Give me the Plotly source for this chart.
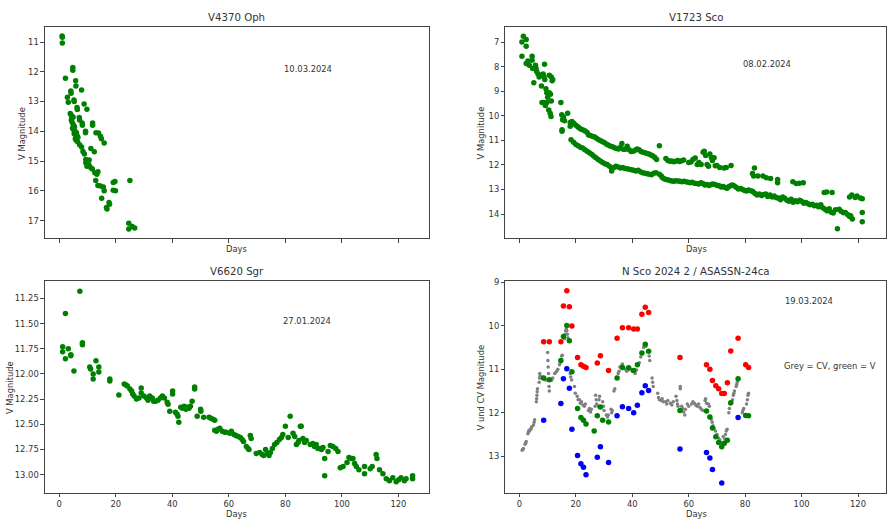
import plotly.graph_objects as go

# ---------------- V4370 Oph ----------------
oph_days = [1.0, 1.1, 1.1, 2.2, 2.9, 3.2, 4.1, 4.2, 4.8, 4.8, 5.2, 5.3, 5.8, 5.9, 6.3, 6.4, 7.9,
            3.9, 4.2, 4.5, 4.9, 4.3, 4.6, 5.0, 5.4, 4.7, 5.1, 5.6, 5.3, 5.8, 6.1, 6.3, 6.6, 5.7, 6.0, 6.5,
            7.1, 7.2, 8.1, 8.2, 8.8, 9.8, 9.3, 9.3, 11.8, 11.8, 13.0, 13.9, 14.6, 14.9, 15.9,
            7.2, 7.9, 8.4, 8.9, 11.2, 12.4, 9.4, 10.2, 10.6, 9.4, 9.8, 10.5, 11.2, 11.7,
            12.6, 13.3, 13.7, 12.9, 13.7, 14.6, 15.6, 19.1, 19.7, 19.1, 19.9, 15.9, 15.0,
            17.6, 17.8, 16.7, 16.9, 25.0, 24.6, 24.6, 25.8, 26.7]
oph_mags = [10.80, 10.84, 11.03, 12.22, 12.86, 13.02, 12.65, 12.72, 11.86, 11.95, 12.95, 13.00, 12.30, 12.48, 13.20, 13.27, 12.61,
            13.40, 13.45, 13.55, 13.52, 13.62, 13.70, 13.78, 13.85, 13.90, 13.95, 14.00, 14.08, 14.12, 14.05, 14.15, 14.20, 14.25, 14.30, 14.35,
            13.54, 13.62, 13.72, 13.80, 13.08, 13.26, 14.00, 14.05, 13.72, 13.80, 14.05, 14.06, 14.17, 14.25, 14.39,
            14.45, 14.53, 14.68, 14.76, 14.58, 14.69, 14.95, 14.98, 14.96, 15.06, 15.17, 15.12, 15.22, 15.27,
            15.39, 15.44, 15.36, 15.65, 15.82, 15.84, 15.87, 15.72, 15.69, 15.98, 16.00, 16.00, 16.25,
            16.39, 16.45, 16.56, 16.61, 15.65, 17.09, 17.28, 17.20, 17.25]

# ---------------- V1723 Sco ----------------
sco_days = [0.9, 0.9, 1.4, 2.4, 2.4, 2.4, 3.0, 3.5, 4.5, 4.5, 4.7, 5.1, 5.7, 5.9, 6.1, 6.6, 7.0, 7.4, 8.0, 8.4,
            8.7, 9.0, 8.9, 7.8, 8.0, 8.7, 9.2, 9.7, 9.4, 9.7, 10.0, 10.6, 11.0, 11.3, 10.4, 10.9, 11.2, 10.6,
            11.3, 11.8, 11.6, 14.7, 15.0, 15.3, 15.6, 15.1, 15.1, 16.0, 17.1, 18.0, 18.0, 18.3,
            # upper branch
            18.6, 19.3, 20.0, 20.7, 21.2, 21.9, 22.6, 23.3, 24.0, 24.5, 25.2, 26.0, 26.7, 27.4, 28.1, 28.8,
            29.5, 30.2, 30.9, 31.6, 32.3, 33.0, 33.7, 34.4, 35.1, 35.8, 36.3, 36.8, 37.5, 38.2, 38.9, 39.6,
            40.3, 41.0, 41.7, 42.4, 43.1, 43.8, 44.5, 45.2, 45.9, 46.6, 47.3, 48.0, 48.6, 49.6, 51.9, 52.6,
            53.3, 54.0, 54.7, 55.4, 56.1, 56.8, 57.5, 58.2, 60.0, 60.8, 61.5, 62.3, 63.0, 63.6, 64.4, 65.1,
            65.5, 66.0, 66.5, 67.0, 67.5, 68.0, 68.4, 69.0, 69.4, 70.0, 71.0, 72.5, 73.3, 75.0,
            82.6, 83.3, 83.0, 84.5, 86.3, 87.5, 89.0, 91.5, 91.5, 96.9, 98.1, 99.2, 100.6, 108.0, 108.9,
            110.8, 117.0, 117.8, 119.0, 119.6, 120.8, 121.5, 121.5, 121.5,
            # lower branch
            19.2, 20.0, 20.8, 21.6, 22.4, 23.2, 24.0, 24.8, 25.6, 26.3, 27.1, 27.9, 28.7, 29.5, 30.3,
            31.1, 31.9, 32.7, 32.7, 33.5, 34.2, 35.0, 35.8, 36.6, 37.4, 38.1, 38.9, 39.7, 40.5, 41.3, 42.1,
            42.9, 43.7, 44.5, 45.3, 46.0, 46.8, 47.6, 48.4, 49.6, 50.3, 50.7, 51.3, 51.9, 52.6, 53.3, 54.0,
            54.7, 55.4, 56.2, 56.9, 57.6, 58.3, 59.0, 59.8, 60.5, 61.2, 62.0, 62.7, 63.5, 64.3, 65.0, 65.7,
            66.4, 67.2, 67.9, 68.6, 69.3, 70.1, 70.8, 71.5, 72.2, 72.9, 73.6, 74.3, 75.0, 75.5, 76.2, 76.9,
            77.6, 78.4, 79.1, 79.8, 80.5, 81.2, 82.0, 82.7, 83.4, 84.2, 85.0, 85.8, 86.5, 87.3, 88.0, 88.8,
            89.6, 90.3, 91.1, 91.8, 92.5, 93.3, 94.0, 94.8, 95.5, 96.3, 97.0, 97.8, 98.5, 99.3, 100.0, 100.8,
            101.5, 102.3, 103.0, 103.8, 104.5, 105.3, 106.0, 106.8, 107.5, 108.3, 109.0, 109.8, 110.5, 111.2,
            112.0, 112.7, 113.3, 114.0, 114.8, 115.5, 116.3, 117.0, 117.4, 118.0]
sco_mags = [7.00, 7.58, 6.76, 6.90, 7.17, 7.87, 7.77, 7.94, 7.58, 7.74, 8.08, 8.66, 7.94, 8.08, 8.20, 8.30, 8.42, 8.36, 8.35, 8.30,
            8.40, 8.52, 7.90, 8.79, 9.46, 9.46, 9.58, 9.46, 8.90, 9.06, 9.25, 9.06, 9.12, 9.40, 9.76, 9.90, 10.03, 8.35,
            8.42, 8.52, 8.57, 9.46, 9.96, 10.16, 10.05, 10.57, 10.63, 10.20, 9.90, 10.27, 10.43, 10.97,
            10.23, 10.30, 10.38, 10.45, 10.50, 10.55, 10.58, 10.62, 10.68, 10.78, 10.80, 10.84, 10.86, 10.92, 10.97, 11.02,
            11.06, 11.10, 11.16, 11.20, 11.24, 11.26, 11.30, 11.33, 11.35, 11.28, 11.13, 11.36, 11.36, 11.24, 11.38, 11.45,
            11.44, 11.40, 11.35, 11.38, 11.45, 11.48, 11.50, 11.53, 11.55, 11.60, 11.64, 11.70, 11.78, 11.22, 11.74, 11.82,
            11.85, 11.84, 11.87, 11.85, 11.82, 11.86, 11.83, 11.80, 11.90, 11.88, 11.78, 11.72, 11.98, 11.90, 11.98, 11.48,
            11.44, 11.62, 11.98, 12.05, 11.55, 11.70, 11.82, 11.71, 12.03, 12.02, 12.10, 12.12, 12.10, 12.02,
            12.35, 12.12, 12.45, 12.45, 12.45, 12.52, 12.55, 12.59, 12.72, 12.68, 12.76, 12.74, 12.72, 13.12, 13.10,
            13.12, 13.30, 13.22, 13.32, 13.26, 13.34, 13.38, 13.93, 14.31,
            11.08, 11.17, 11.22, 11.28, 11.31, 11.38, 11.44, 11.50, 11.57, 11.64, 11.71, 11.78, 11.84, 11.90, 11.95,
            11.98, 12.05, 12.25, 12.15, 12.10, 12.05, 12.08, 12.12, 12.10, 12.14, 12.16, 12.18, 12.20, 12.22, 12.25, 12.22,
            12.28, 12.32, 12.34, 12.36, 12.38, 12.40, 12.34, 12.32, 12.38, 12.45, 12.52, 12.56, 12.59, 12.60, 12.63, 12.65,
            12.66, 12.64, 12.65, 12.66, 12.68, 12.66, 12.68, 12.70, 12.72, 12.70, 12.74, 12.76, 12.78, 12.72, 12.76, 12.82,
            12.80, 12.84, 12.80, 12.78, 12.80, 12.84, 12.85, 12.90, 12.88, 12.92, 12.95, 12.88, 12.84, 12.82, 12.86, 12.92,
            12.98, 12.96, 13.00, 13.04, 13.06, 13.02, 13.05, 13.08, 13.15, 13.22, 13.18, 13.24, 13.20, 13.18, 13.28, 13.22,
            13.30, 13.26, 13.33, 13.35, 13.42, 13.30, 13.36, 13.44, 13.48, 13.40, 13.52, 13.46, 13.50, 13.44, 13.48, 13.56,
            13.53, 13.58, 13.62, 13.60, 13.66, 13.64, 13.70, 13.62, 13.74, 13.80, 13.86, 13.78, 13.92, 13.96,
            13.82, 14.60, 13.80, 13.88, 13.95, 13.93, 14.02, 14.10, 14.07, 14.20]

# ---------------- V6620 Sgr ----------------
sgr_days = [1.2, 1.2, 2.2, 2.2, 3.2, 4.1, 4.1, 5.2, 7.3, 8.2, 8.2, 10.8, 11.1, 12.0, 12.0, 13.0, 14.0, 14.0,
            17.9, 17.9, 21.1, 23.0, 23.6, 24.1, 25.0, 25.6, 26.0, 26.5, 27.3, 28.2, 29.0, 29.0, 29.9, 30.9,
            31.4, 32.0, 32.9, 33.4, 34.1, 34.9, 35.8, 36.5, 37.2, 38.2, 38.5, 39.1, 40.1, 40.1, 41.1, 41.7,
            42.0, 42.3, 43.0, 43.6, 44.2, 44.8, 45.3, 45.9, 46.4, 47.0, 47.9, 47.9, 48.8, 50.0, 50.1, 51.1,
            53.0, 53.6, 54.4, 55.0, 55.0, 55.6, 56.2, 56.8, 57.7, 58.5, 59.1, 60.3, 60.9, 61.8, 62.5, 63.3,
            64.1, 64.7, 65.2, 66.2, 66.8, 67.1, 67.6, 67.9, 69.7, 70.9, 71.8, 72.3, 73.0, 73.6, 74.2, 74.7,
            75.4, 76.2, 77.0, 77.9, 78.6, 79.1, 80.0, 81.0, 81.7, 82.7, 83.3, 83.9, 84.5, 84.8, 85.3, 85.6,
            86.2, 86.8, 87.4, 88.8, 89.7, 90.3, 90.9, 91.5, 92.1, 92.8, 93.3, 93.9, 93.9, 95.1, 95.9, 96.8,
            97.8, 98.6, 99.4, 100.4, 101.8, 102.5, 103.3, 103.9, 104.5, 105.1, 106.0, 108.0, 108.0, 110.0,
            110.7, 112.1, 112.4, 113.3, 114.5, 115.7, 116.8, 118.0, 119.2, 120.1, 120.9, 122.1, 122.7, 125.0, 125.0]
sgr_mags = [11.73, 11.78, 11.40, 11.85, 11.75, 11.81, 11.82, 11.97, 11.18, 11.69, 11.71, 11.93, 11.95, 12.00, 12.05, 11.87, 11.93, 11.98,
            12.05, 12.07, 12.21, 12.10, 12.11, 12.12, 12.15, 12.17, 12.20, 12.22, 12.25, 12.24, 12.19, 12.14, 12.22, 12.24,
            12.26, 12.22, 12.24, 12.27, 12.27, 12.26, 12.24, 12.22, 12.24, 12.28, 12.30, 12.37, 12.17, 12.20, 12.38, 12.40,
            12.42, 12.48, 12.33, 12.34, 12.32, 12.35, 12.33, 12.34, 12.32, 12.27, 12.13, 12.15, 12.42, 12.35, 12.37, 12.43,
            12.43, 12.44, 12.45, 12.46, 12.56, 12.57, 12.55, 12.54, 12.57, 12.58, 12.58, 12.59, 12.57, 12.60, 12.61, 12.62,
            12.63, 12.65, 12.67, 12.72, 12.74, 12.75, 12.61, 12.64, 12.79, 12.78, 12.80, 12.81, 12.75, 12.79, 12.81, 12.78,
            12.74, 12.70, 12.68, 12.65, 12.63, 12.60, 12.52, 12.63, 12.42, 12.59, 12.62, 12.70, 12.68, 12.66, 12.52, 12.52,
            12.64, 12.68, 12.66, 12.70, 12.69, 12.72, 12.70, 12.74, 12.74, 12.75, 12.73, 12.84, 13.01, 12.77, 12.71, 12.72,
            12.74, 12.77, 12.93, 12.92, 12.88, 12.83, 12.84, 12.84, 12.89, 12.92, 12.95, 12.92, 12.99, 12.94,
            12.92, 12.80, 12.84, 12.95, 12.99, 13.04, 13.06, 13.03, 13.07, 13.05, 13.03, 13.06, 13.04, 13.01, 13.04]

# ---------------- N Sco 2024 2 / ASASSN-24ca ----------------
cv_days = [1.0, 1.2, 1.4, 2.0, 2.2, 2.4, 3.0, 3.2, 3.4, 3.6, 4.0, 4.2, 4.4, 5.0, 5.2, 5.4,
           6.0, 6.1, 6.2, 6.3, 6.4, 7.0, 7.1, 7.2, 7.3, 7.8, 8.0, 8.3, 9.0, 9.3,
           10.0, 10.1, 10.2, 10.3, 10.4, 10.5, 10.6, 11.5, 11.8, 12.5, 12.8, 13.2, 13.6,
           14.2, 14.5, 14.8, 15.0, 15.2, 16.0, 16.2, 16.4, 16.6, 16.8, 17.0, 17.2,
           18.0, 18.2, 18.5, 19.5, 19.8, 20.5, 20.8, 21.3, 21.6, 22.0, 22.5, 23.0, 23.4,
           24.5, 24.8, 25.2, 25.5, 26.8, 27.0, 27.2, 27.4, 28.0, 28.2, 28.4, 29.5, 29.8, 30.0,
           30.8, 31.2, 31.5, 32.5, 32.7, 32.9, 33.5, 33.8, 35.0, 35.3, 35.6, 36.2, 36.5,
           37.5, 38.0, 38.5, 39.5, 40.0, 41.0, 41.5, 42.5, 43.0, 43.5, 44.0, 44.4, 44.8,
           45.5, 46.0, 46.2, 47.0, 47.2, 47.4, 49.0, 49.3, 49.6, 50.2, 50.6, 51.0,
           51.8, 52.2, 52.6, 53.5, 54.0, 54.5, 55.5, 55.8, 56.0, 56.2, 57.0, 57.0,
           57.5, 57.8, 58.2, 58.6, 58.8, 59.5, 60.0, 61.0, 61.5, 62.0, 62.5, 63.0, 63.5,
           64.0, 64.5, 65.0, 65.8, 66.0, 66.3, 67.0, 67.3, 68.0, 68.3, 68.6, 69.0, 69.5,
           70.0, 70.5, 71.0, 71.5, 72.0, 72.2, 72.8, 73.0, 73.3, 73.6, 74.2, 74.4, 74.6,
           75.5, 75.8, 76.0, 76.2, 76.8, 77.0, 77.2, 79.0, 79.2, 79.5, 80.5, 80.8, 81.0, 81.2]
cv_mags = [12.86, 12.84, 12.82, 12.72, 12.70, 12.66, 12.48, 12.44, 12.40, 12.42, 12.38, 12.35, 12.32, 12.28, 12.22, 12.16,
           11.75, 11.68, 11.60, 11.52, 11.45, 11.30, 11.20, 11.10, 11.15, 11.20, 11.18, 11.22, 11.22, 11.25,
           10.62, 10.80, 10.95, 11.10, 11.25, 11.40, 11.50, 11.25, 11.20, 11.10, 11.08, 11.05, 11.00,
           10.90, 10.85, 10.78, 10.70, 10.68, 10.30, 10.20, 10.12, 10.08, 10.12, 10.20, 10.28,
           11.10, 11.18, 11.25, 11.40, 11.55, 11.62, 11.70, 11.70, 11.78, 11.75, 11.82, 11.85, 11.80,
           11.95, 11.90, 11.98, 11.92, 11.85, 11.60, 11.70, 11.80, 11.85, 11.70, 11.62, 11.75, 11.85, 11.95,
           12.05, 12.10, 12.05, 11.92, 12.00, 11.95, 11.50, 11.45, 11.10, 11.05, 10.95, 10.92, 10.88,
           11.00, 11.05, 11.02, 11.00, 11.05, 11.10, 11.02, 10.85, 10.72, 10.65, 10.50, 10.45, 10.48,
           10.60, 10.70, 10.80, 11.20, 11.30, 11.40, 11.55, 11.65, 11.70, 11.72, 11.68, 11.75,
           11.75, 11.80, 11.72, 11.78, 11.82, 11.75, 11.62, 11.72, 11.80, 11.85, 11.40, 11.45,
           11.85, 11.90, 11.98, 12.05, 11.92, 11.80, 11.85, 11.80, 11.75, 11.78, 11.82, 11.85, 11.80,
           11.88, 11.92, 11.95, 11.72, 11.68, 11.78, 11.80, 11.85, 12.15, 12.22, 12.30, 12.35, 12.42,
           12.50, 12.58, 12.62, 12.68, 12.70, 12.55, 12.60, 12.50, 12.42, 12.38, 12.00, 11.90, 11.80,
           11.70, 11.60, 11.55, 11.50, 11.40, 11.35, 11.30, 12.00, 11.95, 11.90, 11.80, 11.70, 11.60, 11.55]

obs_days = [8.6, 10.6, 14.7, 15.6, 16.8, 17.7, 18.6, 20.6, 21.8, 22.7, 23.6, 27.6, 28.7, 31.6,
            34.6, 36.5, 38.7, 40.5, 41.8, 43.4, 44.6, 45.8, 56.9, 66.3, 67.5, 68.4, 69.6, 70.6,
            71.7, 72.6, 73.7, 74.9, 77.5, 80.2, 81.2]
red_mags = [10.37, 10.37, 10.37, 9.55, 9.20, 9.57, 10.01, 10.73, 10.90, 10.93, 10.96, 10.86, 10.69, 11.03,
            10.29, 10.05, 10.05, 10.08, 10.08, 9.74, 9.58, 9.70, 10.73, 10.90, 11.00, 11.26, 11.38, 11.45,
            11.56, 11.56, 11.31, 10.58, 10.29, 10.90, 10.96]
green_mags = [11.20, 11.24, 10.80, 10.25, 10.00, 10.35, 11.06, 11.90, 12.11, 12.17, 12.26, 12.07, 11.87, 12.21,
              11.20, 10.96, 10.97, 11.03, 10.90, 10.63, 10.43, 10.59, 11.95, 11.96, 12.10, 12.35, 12.55, 12.68,
              12.78, 12.70, 12.63, 11.77, 11.22, 12.06, 12.07]
blue_mags = [12.17, None, 11.79, 11.22, 10.99, 11.44, 12.38, 12.98, 13.17, 13.25, 13.42, 13.02, 12.78, 13.14,
             12.07, 11.86, 11.90, 12.00, 11.83, 11.54, 11.38, 11.49, 12.83, 12.91, 13.04, 13.30, None, None,
             13.61, None, None, None, 12.11, None, None]
green_extra_days = [26.5, 29.5]
green_extra_mags = [12.42, 12.17]

titles = ["V4370 Oph", "V1723 Sco", "V6620 Sgr", "N Sco 2024 2 / ASASSN-24ca"]
dates = ["10.03.2024", "08.02.2024", "27.01.2024", "19.03.2024"]
x_ticks = [0, 20, 40, 60, 80, 100, 120]

W, H = 887, 520
fig = go.Figure()

GREEN = "#008000"
MS = 5.5


def scat(x, y, ax, color, size=MS):
    fig.add_trace(go.Scatter(x=x, y=y, mode="markers", xaxis="x" + ax, yaxis="y" + ax,
                             marker=dict(color=color, size=size, line=dict(width=0)),
                             showlegend=False, hoverinfo="skip"))


scat(oph_days, oph_mags, "", GREEN)
scat(sco_days, sco_mags, "2", GREEN)
scat(sgr_days, sgr_mags, "3", GREEN)
scat(cv_days, cv_mags, "4", "#808080", 3.5)
scat(obs_days, red_mags, "4", "red")
scat(obs_days, blue_mags, "4", "blue")
scat(obs_days + green_extra_days, green_mags + green_extra_mags, "4", GREEN)

# pixel geometry
L = (45, 429)
R = (506, 887)
TOP = (23, 236)
BOT = (279.3, 492.3)


def xd(p):
    return [p[0] / W, p[1] / W]


def yd(p):
    return [1 - p[1] / H, 1 - p[0] / H]


TXT = "#333333"
FONT = "DejaVu Sans"
FS = 8.4
common_ax = dict(showline=True, linecolor="#444444", linewidth=1, mirror=True, ticks="outside",
                 ticklen=3.5, tickcolor="#444444", showgrid=False, zeroline=False,
                 tickfont=dict(family=FONT, size=FS, color=TXT))

xl_range = [(45 - 59.3) / 2.83, (429 - 59.3) / 2.83]
xr_range = [(506 - 520) / 2.825, (887 - 520) / 2.825]

fig.update_layout(
    width=W, height=H, margin=dict(l=0, r=0, t=0, b=0),
    paper_bgcolor="white", plot_bgcolor="white", showlegend=False,
    xaxis=dict(domain=xd(L), range=xl_range, anchor="y", tickvals=x_ticks, showticklabels=False, **common_ax),
    yaxis=dict(domain=yd(TOP), range=[17.59, 10.49], anchor="x", tickvals=[11, 12, 13, 14, 15, 16, 17], **common_ax),
    xaxis2=dict(domain=xd(R), range=xr_range, anchor="y2", tickvals=x_ticks, showticklabels=False, **common_ax),
    yaxis2=dict(domain=yd(TOP), range=[14.98, 6.38], anchor="x2", tickvals=[7, 8, 9, 10, 11, 12, 13, 14], **common_ax),
    xaxis3=dict(domain=xd(L), range=xl_range, anchor="y3", tickvals=x_ticks, **common_ax),
    yaxis3=dict(domain=yd(BOT), range=[13.177, 11.079], anchor="x3",
                tickvals=[11.25, 11.5, 11.75, 12.0, 12.25, 12.5, 12.75, 13.0], tickformat=".2f", **common_ax),
    xaxis4=dict(domain=xd(R), range=xr_range, anchor="y4", tickvals=x_ticks, **common_ax),
    yaxis4=dict(domain=yd(BOT), range=[13.83, 8.98], anchor="x4", tickvals=[9, 10, 11, 12, 13], **common_ax),
)


def ann(text, x, y, size=FS, angle=0):
    fig.add_annotation(text=text, x=x / W, y=1 - y / H, xref="paper", yref="paper",
                       showarrow=False, xanchor="center", yanchor="middle", textangle=angle,
                       font=dict(family=FONT, size=size, color=TXT))


# titles
TS = 10.2
ann(titles[0], 237, 14, TS)
ann(titles[1], 697, 14, TS)
ann(titles[2], 237, 270, TS)
ann(titles[3], 697, 270, TS)
# dates
ann(dates[0], 308, 65)
ann(dates[1], 768, 60)
ann(dates[2], 307, 319)
ann(dates[3], 810, 299)
ann("Grey = CV, green = V", 831, 365)
# axis labels
ann("Days", 237, 247)
ann("Days", 697, 247)
ann("Days", 237, 514)
ann("Days", 697, 514)
ann("V Magnitude", 22, 130, FS, -90)
ann("V Magnitude", 482, 130, FS, -90)
ann("V Magnitude", 10, 386, FS, -90)
ann("V und CV Magnitude", 482, 386, FS, -90)

fig.write_html("out.html")
